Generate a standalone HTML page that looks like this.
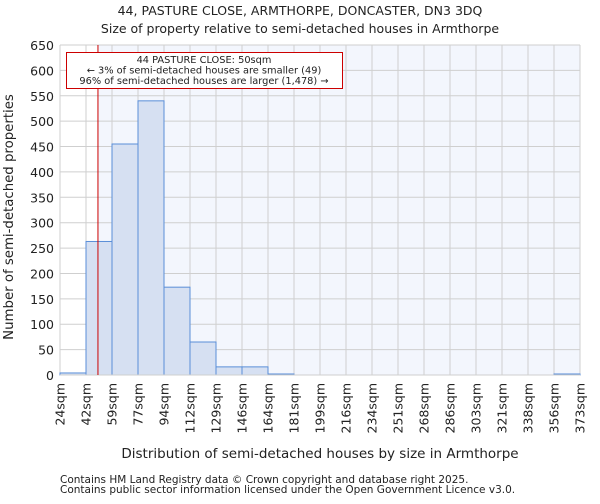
<!DOCTYPE html>
<html><head><meta charset="utf-8"><style>
body{margin:0;background:#fff;font-family:"DejaVu Sans","Liberation Sans",sans-serif;}
svg text{font-family:"DejaVu Sans","Liberation Sans",sans-serif;fill:#222;}
</style></head><body>
<svg id="c" width="600" height="500" xmlns="http://www.w3.org/2000/svg">
<text x="300" y="15" text-anchor="middle" font-size="12.5">44, PASTURE CLOSE, ARMTHORPE, DONCASTER, DN3 3DQ</text>
<text x="300" y="33" text-anchor="middle" font-size="12.5">Size of property relative to semi-detached houses in Armthorpe</text>
<g id="plot"></g>
<text x="320" y="458" text-anchor="middle" font-size="13.5">Distribution of semi-detached houses by size in Armthorpe</text>
<text transform="translate(13,217) rotate(-90)" text-anchor="middle" font-size="13.3">Number of semi-detached properties</text>
<text x="60" y="483" font-size="10.5" fill="#444">Contains HM Land Registry data © Crown copyright and database right 2025.</text>
<text x="60" y="493" font-size="10.5" fill="#444">Contains public sector information licensed under the Open Government Licence v3.0.</text>
</svg>
<script>
const binLabels=["24sqm","42sqm","59sqm","77sqm","94sqm","112sqm","129sqm","146sqm","164sqm","181sqm","199sqm","216sqm","234sqm","251sqm","268sqm","286sqm","303sqm","321sqm","338sqm","356sqm","373sqm"];
const counts=[4,263,455,540,173,65,16,16,2,0,0,0,0,0,0,0,0,0,0,2];
const yTicks=[0,50,100,150,200,250,300,350,400,450,500,550,600,650];
const markerValue=1.46;
const NS="http://www.w3.org/2000/svg";
const g=document.getElementById('plot');
const X0=60,X1=580,Y0=375,Y1=45,YMAX=650;
const bw=(X1-X0)/counts.length;
const xs=i=>X0+i*bw;
const ys=v=>Y0-(v/YMAX)*(Y0-Y1);
function mk(t,a){const e=document.createElementNS(NS,t);for(const k in a)e.setAttribute(k,a[k]);g.appendChild(e);return e;}
const mx=xs(markerValue);
let e=mk('rect',{x:mx,y:Y1,width:X1-mx,height:Y0-Y1,fill:'#f3f6fd'});


yTicks.forEach(v=>{
 let l=mk('line',{x1:X0,x2:X1,y1:ys(v),y2:ys(v),stroke:'#cfcfcf','stroke-width':1});
 
 
 let t=mk('text',{x:X0-6,y:ys(v)+5,'text-anchor':'end','font-size':12.5});
 t.textContent=v;
 
 
});
binLabels.forEach((s,i)=>{
 let l=mk('line',{x1:xs(i),x2:xs(i),y1:Y1,y2:Y0,stroke:'#cfcfcf','stroke-width':1});
 
 
 let t=mk('text',{transform:`translate(${xs(i)+4.5},${Y0+8}) rotate(-90)`,'text-anchor':'end','font-size':12.5});
 t.textContent=s;
 
 
});
counts.forEach((c,i)=>{
 if(c<=0)return;
 let r=mk('rect',{x:xs(i),y:ys(c),width:bw,height:Y0-ys(c),fill:'#d6e0f2',stroke:'#5a8ed8','stroke-width':1});
 
 
});
let ax=mk('line',{x1:X0,x2:X1,y1:Y0,y2:Y0,stroke:'#cfcfcf','stroke-width':1});


let m=mk('line',{x1:mx,x2:mx,y1:Y1,y2:Y0,stroke:'#cc0000','stroke-width':1});


let b=mk('rect',{x:66.5,y:52.5,width:276,height:36,fill:'#fff',stroke:'#cc0000','stroke-width':1});


["44 PASTURE CLOSE: 50sqm","← 3% of semi-detached houses are smaller (49)","96% of semi-detached houses are larger (1,478) →"].forEach((s,i)=>{
 let t=mk('text',{x:204,y:63+i*10.5,'text-anchor':'middle','font-size':9.8});
 t.textContent=s;
 
 
});
</script>
</body></html>
